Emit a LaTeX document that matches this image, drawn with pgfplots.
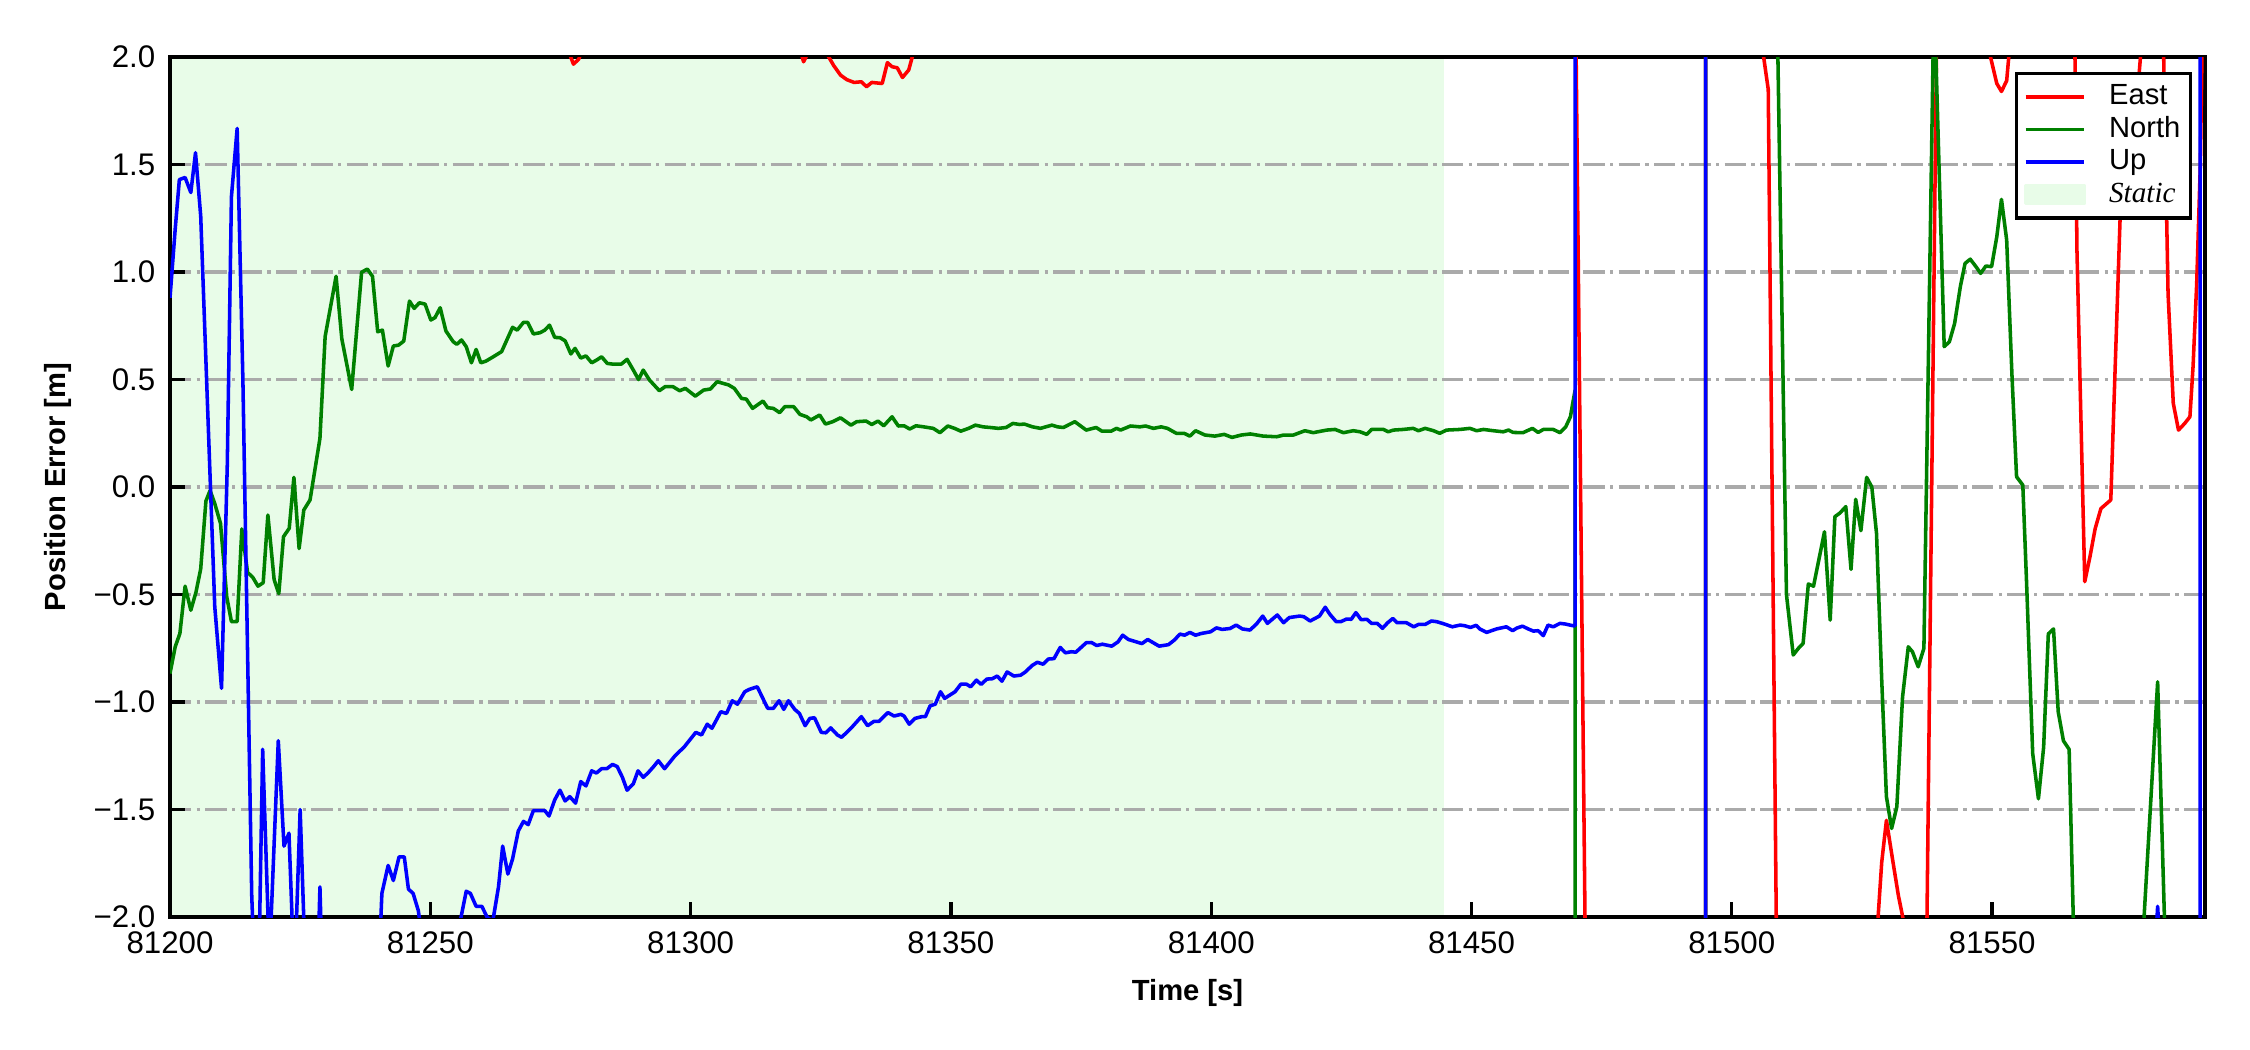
\documentclass[border=0pt]{standalone}
\usepackage{fontspec}
\setmainfont{Liberation Sans}
\newfontfamily\timesfont{Liberation Serif}
\usepackage{pgfplots}
\usepackage{pgfplotstable}
\pgfplotsset{compat=1.18}
\definecolor{eastred}{RGB}{255,0,0}
\definecolor{northgreen}{RGB}{0,128,0}
\definecolor{upblue}{RGB}{0,0,255}
\definecolor{staticgreen}{RGB}{232,252,232}
\definecolor{gridgray}{RGB}{170,170,170}

% time is given in seconds after 81200 s
\pgfplotstableread{
t v
0 3.0
40 2.8
60 2.4
75 2.1
76.5 2.03
77.5 1.967
78.5 1.99
79.5 2.05
100 2.4
118 2.3
120.5 2.08
121.7 1.978
123 2.04
125 2.1
126.3 2.01
127.5 1.96
128.8 1.916
130 1.895
131.4 1.882
132.8 1.885
133.8 1.862
134.8 1.882
136.8 1.877
137.8 1.974
138.7 1.955
139.7 1.95
140.7 1.905
141.9 1.94
142.8 2.02
144 2.2
170 2.6
220 2.5
260 2.7
269.7 2.94
272.2 -2.94
280 -4
294.95 -40
295.0 40
306.0 2.02
307.0 1.85
309.0 -3.15
318 -4
327.0 -2.4
328.8 -1.745
329.7 -1.55
331.0 -1.75
332.0 -1.9
333.0 -2.02
334.5 -2.3
337.0 -3.1
340.0 3.55
345 2.6
349.5 2.02
350.9 1.877
351.8 1.84
352.8 1.89
353.2 2.0
354 2.3
360 2.6
365.5 3.0
366.3 1.1
367.8 -0.44
368.8 -0.324
369.8 -0.193
370.9 -0.10
371.9 -0.079
372.8 -0.06
374.6 1.26
376 1.6
378 1.85
379.5 2.3
381 2.6
382.5 2.6
383.8 0.9
384.8 0.39
385.8 0.265
387.0 0.296
388.0 0.327
388.6 0.56
389.3 0.947
390.0 1.5
390.5 2.3
391 3
}\eastdata

\pgfplotstableread{
t v
0.0 -0.867
1.0 -0.743
1.9 -0.681
2.9 -0.461
4.0 -0.573
5.0 -0.488
5.9 -0.38
6.9 -0.065
7.7 -0.016
8.6 -0.077
9.7 -0.169
10.9 -0.51
11.8 -0.626
12.9 -0.626
13.8 -0.195
14.9 -0.397
15.9 -0.42
16.9 -0.461
17.9 -0.445
18.8 -0.13
20.0 -0.43
20.9 -0.496
21.8 -0.231
22.9 -0.192
23.8 0.045
24.8 -0.286
25.7 -0.107
26.9 -0.06
27.7 0.06
28.8 0.226
29.8 0.70
31.9 0.98
33.0 0.69
34.9 0.454
36.8 0.999
37.9 1.014
38.9 0.98
39.9 0.722
40.8 0.73
41.9 0.563
42.9 0.656
43.9 0.66
44.9 0.679
46.0 0.865
46.9 0.831
47.9 0.857
49.0 0.851
50.1 0.777
50.9 0.788
51.9 0.834
53.0 0.726
54.4 0.676
55.1 0.664
56.0 0.684
56.9 0.653
57.9 0.578
58.8 0.64
59.7 0.578
60.7 0.586
62.1 0.606
63.7 0.63
64.7 0.684
65.8 0.743
66.7 0.73
67.9 0.766
68.7 0.766
69.8 0.712
71.1 0.718
72.0 0.73
72.9 0.753
73.9 0.696
74.9 0.695
75.9 0.68
77.0 0.619
77.8 0.645
78.9 0.6
79.9 0.61
81.0 0.578
81.9 0.59
82.9 0.606
84.0 0.575
85.0 0.572
86.7 0.572
87.8 0.594
89.0 0.544
90.0 0.5
90.9 0.544
92.1 0.498
94.0 0.448
95.1 0.467
96.6 0.467
97.9 0.448
99.0 0.459
100.9 0.423
102.5 0.451
103.8 0.456
105.1 0.49
107.3 0.475
108.4 0.459
109.8 0.412
110.7 0.409
111.9 0.366
113.9 0.40
114.8 0.369
115.9 0.366
117.1 0.346
118.1 0.374
119.8 0.374
121.0 0.338
122.3 0.327
123.1 0.312
124.8 0.335
125.9 0.293
127.3 0.304
128.8 0.322
130.8 0.288
131.9 0.304
133.7 0.307
134.8 0.291
136.0 0.307
137.1 0.285
138.7 0.327
139.9 0.284
141.0 0.285
142.1 0.27
143.3 0.285
144.8 0.28
146.6 0.273
147.9 0.253
149.4 0.284
150.7 0.273
151.9 0.26
153.4 0.273
154.7 0.288
156.2 0.28
157.6 0.277
159.1 0.273
160.6 0.277
161.9 0.296
163.2 0.291
164.1 0.293
165.7 0.28
167.2 0.273
169.4 0.288
170.5 0.28
171.6 0.277
173.8 0.304
176.0 0.265
177.9 0.277
179.0 0.26
180.8 0.26
181.8 0.273
182.6 0.265
184.5 0.284
186.3 0.28
187.4 0.284
188.9 0.273
190.4 0.28
191.6 0.273
193.3 0.25
194.8 0.25
195.9 0.237
197.0 0.262
198.8 0.242
200.7 0.237
202.5 0.245
204.0 0.231
205.8 0.242
207.5 0.247
210.0 0.237
212.6 0.234
213.9 0.242
215.8 0.242
218.0 0.262
219.6 0.253
222.2 0.265
223.8 0.268
225.4 0.253
227.3 0.262
228.6 0.257
229.9 0.245
230.8 0.268
233.1 0.268
234.0 0.257
235.0 0.265
236.9 0.268
238.8 0.273
239.8 0.262
241.1 0.273
242.7 0.262
243.9 0.25
245.2 0.265
247.8 0.268
249.7 0.273
251.0 0.262
252.3 0.268
254.2 0.262
256.1 0.257
257.1 0.265
258.0 0.254
259.9 0.253
261.7 0.273
262.8 0.254
263.8 0.268
265.7 0.268
267.0 0.253
268.1 0.28
269.0 0.327
269.5 0.397
269.9 0.45
270.0 -40
294.95 -40
295.0 40
308.0 3.3
310.5 -0.5
311.8 -0.781
312.8 -0.75
313.7 -0.727
314.7 -0.451
315.7 -0.461
317.8 -0.208
318.9 -0.619
319.8 -0.138
320.8 -0.12
321.9 -0.091
322.9 -0.383
323.8 -0.057
324.8 -0.203
325.9 0.045
326.9 0.0
327.8 -0.216
328.8 -0.898
329.7 -1.44
330.7 -1.588
331.7 -1.487
332.8 -0.976
333.9 -0.743
334.7 -0.766
335.8 -0.836
336.9 -0.75
338.85 2.3
340.8 0.653
341.8 0.676
342.8 0.761
343.9 0.932
344.8 1.04
345.8 1.06
346.9 1.025
347.8 0.994
348.8 1.028
349.9 1.025
350.9 1.164
351.8 1.338
352.8 1.149
353.8 0.529
354.7 0.048
355.9 0.009
356.6 -0.43
357.8 -1.24
358.9 -1.45
359.9 -1.21
360.8 -0.683
361.8 -0.66
362.7 -1.045
363.7 -1.18
364.8 -1.22
366.5 -2.9
372 -4
378.0 -2.5
381.8 -0.906
383.1 -2.0
384.5 -3.1
391 -3.5
}\northdata

\pgfplotstableread{
t v
0.0 0.88
1.0 1.2
1.8 1.43
2.9 1.44
4.0 1.37
4.9 1.555
5.9 1.26
8.6 -0.557
9.9 -0.936
11.0 0.1
11.8 1.35
12.9 1.668
14.0 0.5
15.7 -1.9
16.8 -2.6
17.8 -1.22
19.1 -2.2
20.8 -1.18
21.9 -1.67
22.85 -1.61
23.9 -2.3
25.0 -1.5
26.1 -2.3
28.3 -2.3
28.8 -1.86
29.3 -2.3
31 -2.6
40.0 -2.3
40.7 -1.89
41.9 -1.76
42.9 -1.83
44.0 -1.72
45.0 -1.72
45.8 -1.87
46.7 -1.89
47.7 -1.97
49.0 -2.2
52 -2.4
55.5 -2.05
56.9 -1.88
57.7 -1.89
58.8 -1.95
59.9 -1.95
60.9 -2.0
62.0 -2.02
63.1 -1.86
63.9 -1.67
64.9 -1.80
65.8 -1.73
66.9 -1.60
67.9 -1.555
68.8 -1.57
69.8 -1.505
71.1 -1.505
72.0 -1.505
72.8 -1.53
73.9 -1.455
74.9 -1.41
75.9 -1.46
76.8 -1.44
77.9 -1.47
78.9 -1.37
79.9 -1.39
81.0 -1.32
81.9 -1.33
82.9 -1.31
83.9 -1.31
85.0 -1.29
85.9 -1.30
86.9 -1.35
87.8 -1.41
89.0 -1.38
89.9 -1.32
90.9 -1.35
91.8 -1.33
92.9 -1.30
93.8 -1.273
95.0 -1.31
97.0 -1.25
98.8 -1.208
101.0 -1.141
102.1 -1.153
103.2 -1.103
104.1 -1.122
105.8 -1.045
106.9 -1.053
108.0 -0.994
109.0 -1.010
110.4 -0.952
111.3 -0.941
112.8 -0.929
114.8 -1.029
115.9 -1.029
117.0 -0.994
117.9 -1.034
118.8 -0.994
120.0 -1.034
120.9 -1.053
122.0 -1.110
122.9 -1.076
123.8 -1.073
125.1 -1.141
126.0 -1.143
126.9 -1.12
128.2 -1.153
129.0 -1.164
130.8 -1.122
132.8 -1.068
134.0 -1.11
135.2 -1.09
136.2 -1.09
137.9 -1.049
139.1 -1.065
140.4 -1.057
141.0 -1.065
142.0 -1.103
143.1 -1.076
144.4 -1.068
145.1 -1.068
146.0 -1.018
147.0 -1.01
148.0 -0.952
148.8 -0.983
150.8 -0.952
151.9 -0.917
153.0 -0.917
153.8 -0.929
154.9 -0.898
155.8 -0.918
156.9 -0.893
157.9 -0.892
158.9 -0.879
159.8 -0.903
160.8 -0.860
162.1 -0.879
163.4 -0.875
164.3 -0.860
165.6 -0.83
166.6 -0.815
167.7 -0.824
168.7 -0.80
169.8 -0.798
171.0 -0.746
172.0 -0.771
173.1 -0.766
174.0 -0.768
176.0 -0.724
177.0 -0.723
178.0 -0.737
179.1 -0.731
180.9 -0.74
182.1 -0.72
183.0 -0.689
184.1 -0.709
186.7 -0.728
187.8 -0.709
190.0 -0.74
191.8 -0.733
192.9 -0.712
194.0 -0.684
194.9 -0.689
195.9 -0.676
197.0 -0.689
198.1 -0.681
199.9 -0.673
201.0 -0.655
202.1 -0.662
203.6 -0.658
204.8 -0.642
206.0 -0.66
207.45 -0.665
208.7 -0.637
209.9 -0.60
210.8 -0.634
212.7 -0.595
213.9 -0.631
215.0 -0.607
217.0 -0.60
217.8 -0.603
219.0 -0.623
220.8 -0.60
221.9 -0.559
222.8 -0.592
224.0 -0.626
224.9 -0.626
226.0 -0.614
226.9 -0.615
227.8 -0.584
228.8 -0.617
229.9 -0.615
230.8 -0.634
231.9 -0.634
232.9 -0.657
233.9 -0.631
234.9 -0.611
235.7 -0.631
237.5 -0.631
238.9 -0.65
239.8 -0.639
241.1 -0.639
242.3 -0.623
243.3 -0.626
244.8 -0.637
246.3 -0.65
247.8 -0.642
248.7 -0.645
249.8 -0.653
250.9 -0.643
251.6 -0.66
252.9 -0.676
254.8 -0.66
256.7 -0.65
257.9 -0.668
258.7 -0.656
259.8 -0.647
260.9 -0.66
261.9 -0.67
262.8 -0.668
263.8 -0.691
264.7 -0.642
265.7 -0.65
267.0 -0.634
268.0 -0.637
269.5 -0.645
269.9 -0.645
270.0 40
294.95 40
295.0 -40
380.0 -40
381.0 -2.3
381.8 -1.95
382.6 -2.3
383.5 -40
389.9 -40
390.0 40
391 40
}\updata

\begin{document}
\begin{tikzpicture}
\begin{axis}[
  set layers,
  scale only axis,
  width=488.4pt, height=206.4pt,
  xmin=0, xmax=390.9,
  ymin=-2, ymax=2,
  xtick={0,50,100,150,200,250,300,350},
  xticklabels={81200,81250,81300,81350,81400,81450,81500,81550},
  ytick={-2,-1.5,-1,-0.5,0,0.5,1,1.5,2},
  yticklabels={−2.0,−1.5,−1.0,−0.5,0.0,0.5,1.0,1.5,2.0},
  tick align=inside,
  xtick pos=left, ytick pos=left,
  major tick length=3.6pt,
  tick style={line width=0.8pt, black},
  axis line style={line width=0.8pt},
  ymajorgrids=true,
  major grid style={color=gridgray, line width=0.8pt, dash pattern=on 5.12pt off 1.28pt on 0.8pt off 1.28pt},
  tick label style={font=\fontsize{7.5}{9}\selectfont},
  xlabel={Time [s]},
  ylabel={Position Error [m]},
  label style={font=\fontsize{7}{8.4}\selectfont\bfseries},
  xlabel style={at={(axis description cs:0.5,-0.0887)}, anchor=center},
  ylabel style={at={(axis description cs:-0.0553,0.5)}, anchor=center},
  legend style={at={(1,1)}, anchor=north east, xshift=-3.1pt, yshift=-3.6pt,
    draw=black, line width=0.8pt, fill=white, sharp corners,
    font=\fontsize{7}{7.6}\selectfont, inner sep=1.8pt,
    nodes={inner sep=0.6pt, text height=5.0pt, text depth=1.4pt},
    row sep=0.2pt,
    /tikz/every odd column/.append style={column sep=5pt}},
  legend cell align=left,
  legend image code/.code={\draw[#1, line width=0.85pt] (0pt,0pt) -- (14pt,0pt);},
  every axis plot/.append style={line width=0.85pt, line join=round},
]
\addplot[fill=staticgreen, draw=none, forget plot, on layer=axis background]
  coordinates {(0,-2) (0,2) (244.8,2) (244.8,-2)} -- cycle;
\addplot[color=eastred] table[x=t, y=v] {\eastdata};
\addlegendentry{East}
\addplot[color=northgreen] table[x=t, y=v] {\northdata};
\addlegendentry{North}
\addplot[color=upblue] table[x=t, y=v] {\updata};
\addlegendentry{Up}
\addlegendimage{legend image code/.code={\fill[staticgreen] (0pt,-2.2pt) rectangle (14pt,2.2pt);}}
\addlegendentry{{\timesfont\itshape Static}}
\end{axis}
\useasboundingbox ([xshift=-40.8pt,yshift=-31.9pt]current axis.south west) rectangle ([xshift=10.8pt,yshift=13.7pt]current axis.north east);
\end{tikzpicture}
\end{document}
